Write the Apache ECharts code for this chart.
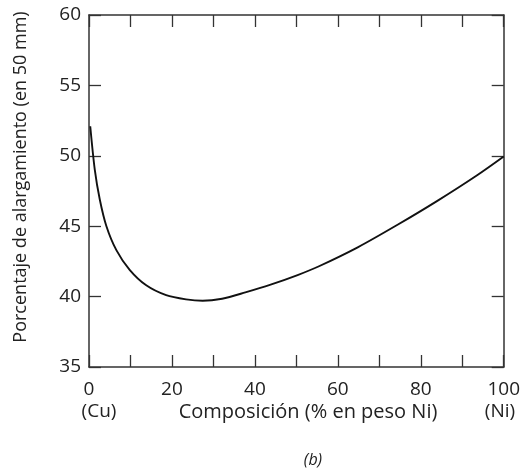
<!DOCTYPE html>
<html><head><meta charset="utf-8">
<script src="https://cdn.jsdelivr.net/npm/echarts@6/dist/echarts.min.js"></script>
<style>html,body{margin:0;padding:0;background:#fff}#c{width:523px;height:469px}</style>
</head><body><div id="c"></div>
<script>
const compNi = [0.3, 1.4, 2.6, 4.2, 6.6, 9.8, 13.8, 18.6, 23.4, 27.4, 32.1, 37.7, 43.8, 50.3, 55.2, 64.8, 74.4, 84, 93.5, 100];
const elong  = [52.1, 49.0, 46.9, 45.0, 43.3, 41.9, 40.8, 40.1, 39.8, 39.7, 39.85, 40.3, 40.85, 41.53, 42.12, 43.5, 45.1, 46.8, 48.6, 49.95];
const xTitle = 'Composición (% en peso Ni)';
const yTitle = 'Porcentaje de alargamiento (en 50 mm)';
const leftEnd = '(Cu)', rightEnd = '(Ni)', caption = '(b)';

const FONT = 'Open Sans';
const TXT = '#222';
const AX = '#333';
const chart = echarts.init(document.getElementById('c'), null, {renderer:'canvas'});
const gridL = 89, gridR = 16, gridT = 15, gridB = 102;
const tickStyle = {show:true, inside:true, length:12, lineStyle:{color:AX, width:1.3}};
const axLine = {show:true, onZero:false, lineStyle:{color:AX, width:1.5}};
chart.setOption({
  animation:false,
  grid:{left:gridL, right:gridR, top:gridT, bottom:gridB},
  xAxis:[
    {type:'value', position:'bottom', min:0, max:100, interval:10,
     axisLine:axLine, axisTick:tickStyle, splitLine:{show:false},
     axisLabel:{color:TXT, fontFamily:FONT, fontSize:19, margin:13,
       formatter:v => (v % 20 === 0 ? String(v) : '')}},
    {type:'value', position:'top', min:0, max:100, interval:10,
     axisLine:axLine, axisTick:tickStyle, splitLine:{show:false}, axisLabel:{show:false}}
  ],
  yAxis:[
    {type:'value', position:'left', min:35, max:60, interval:5,
     axisLine:axLine, axisTick:tickStyle, splitLine:{show:false},
     axisLabel:{color:TXT, fontFamily:FONT, fontSize:19, margin:8}},
    {type:'value', position:'right', min:35, max:60, interval:5,
     axisLine:axLine, axisTick:tickStyle, splitLine:{show:false}, axisLabel:{show:false}}
  ],
  series:[{
    type:'line', data:compNi.map((x,i)=>[x, elong[i]]), smooth:0.3,
    showSymbol:false, lineStyle:{color:'#111', width:1.9}
  }],
  graphic:[
    {type:'text', x:99, y:412, style:{text:leftEnd, fill:TXT, font:'19px "'+FONT+'"', textAlign:'center', textVerticalAlign:'middle'}},
    {type:'text', x:500, y:412, style:{text:rightEnd, fill:TXT, font:'19px "'+FONT+'"', textAlign:'center', textVerticalAlign:'middle'}},
    {type:'text', x:308, y:412, style:{text:xTitle, fill:TXT, font:'20px "'+FONT+'"', textAlign:'center', textVerticalAlign:'middle'}},
    {type:'text', x:313, y:460, style:{text:caption, fill:TXT, font:'italic 16px "'+FONT+'"', textAlign:'center', textVerticalAlign:'middle'}},
    {type:'text', x:21, y:177, rotation:Math.PI/2, style:{text:yTitle, fill:TXT, font:'18px "'+FONT+'"', textAlign:'center', textVerticalAlign:'middle'}}
  ]
});
</script></body></html>
